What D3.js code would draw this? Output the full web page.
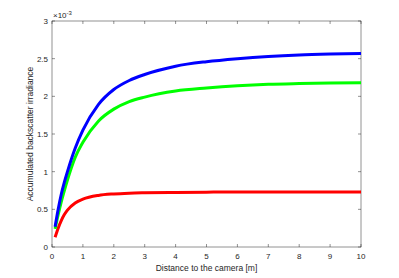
<!DOCTYPE html>
<html>
<head>
<meta charset="utf-8">
<script src="https://cdn.jsdelivr.net/npm/d3@7"></script>
<style>
  body { margin: 0; background: #fff; }
  svg { font-family: "Liberation Sans", Arial, sans-serif; }
</style>
</head>
<body>
<svg id="chart" width="399" height="278"></svg>
<script>
// distance samples [m] and accumulated irradiance (x 1e-3)
const distance = [0.1, 0.2, 0.3, 0.4, 0.5, 0.75, 1, 1.5, 2, 2.5, 3, 4, 5, 6, 7, 8, 9, 10];
const blueSeries = [0.27, 0.50, 0.70, 0.86, 1.00, 1.31, 1.55, 1.89, 2.09, 2.21, 2.29, 2.40, 2.46, 2.50, 2.53, 2.55, 2.562, 2.57];
const greenSeries = [0.24, 0.43, 0.60, 0.75, 0.89, 1.19, 1.39, 1.67, 1.83, 1.93, 1.99, 2.07, 2.11, 2.14, 2.16, 2.17, 2.177, 2.18];
const redSeries = [0.13, 0.25, 0.35, 0.43, 0.49, 0.585, 0.635, 0.685, 0.705, 0.715, 0.72, 0.725, 0.728, 0.73, 0.73, 0.73, 0.73, 0.73];
const xTicks = [0, 1, 2, 3, 4, 5, 6, 7, 8, 9, 10];
const yTicks = [0, 0.5, 1, 1.5, 2, 2.5, 3];

const svg = d3.select("#chart");
const margin = { left: 52, right: 38, top: 21, bottom: 31 };
const width = 399, height = 278;
const axisColor = "#262626";

const x = d3.scaleLinear().domain([0, 10]).range([margin.left, width - margin.right]);
const y = d3.scaleLinear().domain([0, 3]).range([height - margin.bottom, margin.top]);

// box
svg.append("rect")
    .attr("x", x(0)).attr("y", y(3))
    .attr("width", x(10) - x(0)).attr("height", y(0) - y(3))
    .attr("fill", "none").attr("stroke", axisColor).attr("stroke-width", 0.5);

// ticks, pointing inward on all four sides
const tickLen = 3;
const tickG = svg.append("g").attr("stroke", axisColor).attr("stroke-width", 0.5);
xTicks.forEach(t => {
    tickG.append("line").attr("x1", x(t)).attr("x2", x(t)).attr("y1", y(0)).attr("y2", y(0) - tickLen);
    tickG.append("line").attr("x1", x(t)).attr("x2", x(t)).attr("y1", y(3)).attr("y2", y(3) + tickLen);
});
yTicks.forEach(t => {
    tickG.append("line").attr("x1", x(0)).attr("x2", x(0) + tickLen).attr("y1", y(t)).attr("y2", y(t));
    tickG.append("line").attr("x1", x(10)).attr("x2", x(10) - tickLen).attr("y1", y(t)).attr("y2", y(t));
});

// tick labels
svg.append("g").selectAll("text")
    .data(xTicks).join("text")
    .attr("x", d => x(d)).attr("y", y(0) + 12)
    .attr("text-anchor", "middle")
    .attr("font-size", 8).attr("fill", axisColor)
    .text(d => d);

svg.append("g").selectAll("text")
    .data(yTicks).join("text")
    .attr("x", x(0) - 4).attr("y", d => y(d) + 3)
    .attr("text-anchor", "end")
    .attr("font-size", 8).attr("fill", axisColor)
    .text(d => d);

// exponent label
const expo = svg.append("text")
    .attr("x", x(0) + 1).attr("y", y(3) - 3)
    .attr("font-size", 8).attr("fill", axisColor);
expo.append("tspan").text("\u00d710");
expo.append("tspan").attr("dy", -3).attr("font-size", 6).text("-3");

// axis titles
svg.append("text")
    .attr("x", (x(0) + x(10)) / 2).attr("y", height - 7)
    .attr("text-anchor", "middle")
    .attr("font-size", 8.5).attr("fill", axisColor)
    .text("Distance to the camera [m]");

svg.append("text")
    .attr("transform", `translate(33,${(y(0) + y(3)) / 2}) rotate(-90)`)
    .attr("text-anchor", "middle")
    .attr("font-size", 8.5).attr("fill", axisColor)
    .text("Accumulated backscatter irradiance");

// curves
const line = d3.line()
    .x((d, i) => x(distance[i]))
    .y(d => y(d))
    .curve(d3.curveMonotoneX);

[[redSeries, "#ff0000"], [greenSeries, "#00ff00"], [blueSeries, "#0000ff"]].forEach(([s, c]) => {
    svg.append("path")
        .datum(s)
        .attr("fill", "none")
        .attr("stroke", c)
        .attr("stroke-width", 3)
        .attr("d", line);
});
</script>
</body>
</html>
